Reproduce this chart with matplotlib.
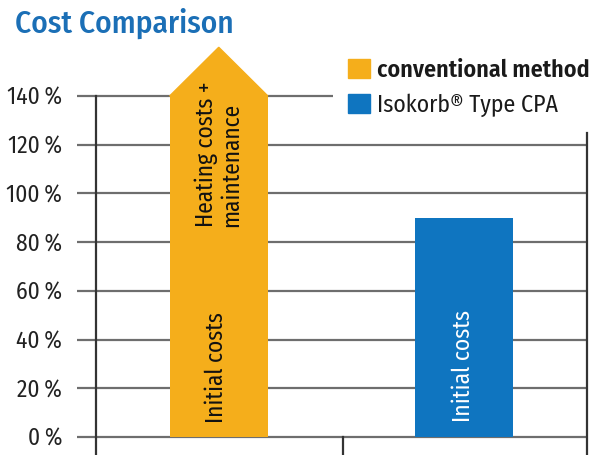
import matplotlib
matplotlib.use("Agg")
import matplotlib.pyplot as plt
from matplotlib.patches import Polygon, Rectangle

categories = ["conventional method", "Isokorb® Type CPA"]
values = [140, 90]
arrow_tip = 160
colors = ["#f5ae1b", "#0f75c0"]
yticks = [0, 20, 40, 60, 80, 100, 120, 140]
ytick_labels = ["0\u2009%", "20\u2009%", "40\u2009%", "60\u2009%", "80\u2009%", "100\u2009%", "120\u2009%", "140\u2009%"]
positions = [0.5, 1.5]

FONT = ["Fira Sans Condensed", "DejaVu Sans"]
plt.rcParams['font.family'] = FONT

W, H = 604, 456
fig = plt.figure(figsize=(W / 100, H / 100), dpi=100)
L, R, Y0, Y140 = 96, 587, 438, 97
ax = fig.add_axes([L / W, (H - Y0) / H, (R - L) / W, (Y0 - Y140) / H])
ax.set_xlim(0, 2)
ax.set_ylim(0, 140)
ax.axis("off")
pxy = 140 / (Y0 - Y140)
pxx = 1 / (R - L)

fits = []  # (text, target_px, use_height)

yt = ax.get_yaxis_transform()
for v, lab in zip(yticks, ytick_labels):
    xend = (333 - L) * pxx if v == 140 else 1.0
    ax.plot([(77 - L) * pxx, xend], [v, v], transform=yt, color="#6e6e6e",
            lw=1.6, zorder=1, clip_on=False, solid_capstyle="butt")
    t = ax.text((62 - L) * pxx, v - 8 * pxy, lab, transform=yt, ha="right", va="baseline",
                fontsize=13, color="#222222")
    if lab.startswith("140"):
        fits.append((t, 55, False))
    else:
        fits.append((t, None, False))

bottom = -(H - Y0) * pxy
ax.plot([0, 0], [bottom, 140], color="#333333", lw=1.6, clip_on=False, zorder=1)
ax.plot([1.006, 1.006], [bottom, 0], color="#333333", lw=1.6, clip_on=False, zorder=1)
ax.plot([2, 2], [bottom, (Y0 - 134) * pxy], color="#333333", lw=1.6, clip_on=False, zorder=1)

bars = ax.bar(positions, values, width=0.4, color=colors, zorder=3)
b = bars[0]
x0, w, top = b.get_x(), b.get_width(), b.get_height()
ax.add_patch(Polygon([(x0, top), (x0 + w / 2, arrow_tip), (x0 + w, top)],
                     closed=True, color=colors[0], zorder=3, clip_on=False))

t1 = ax.text(positions[0] - 0.01, 6, "Initial costs", rotation=90, ha="center", va="bottom",
             fontsize=15, color="#111111", zorder=4)
t2 = ax.text(positions[0], 86.5, "Heating costs +\nmaintenance", rotation=90, ha="center",
             va="bottom", ma="left", fontsize=15, color="#111111", zorder=4, linespacing=1.05)
t3 = ax.text(positions[1] - 0.005, 6.5, "Initial costs", rotation=90, ha="center", va="bottom",
             fontsize=15, color="white", zorder=4)
fits += [(t1, 111, True), (t3, 112, True)]

# legend
leg_targets = [212, 181]
leg_base = [77, 112]
for i, (cat, col) in enumerate(zip(categories, colors)):
    ytop = 60 + i * 35
    fig.patches.append(Rectangle((348 / W, 1 - (ytop + 19) / H), 22 / W, 19 / H,
                                 transform=fig.transFigure, color=col))
    t = fig.text(377 / W, 1 - leg_base[i] / H, cat, ha="left", va="baseline", fontsize=15,
                 fontweight="semibold" if i == 0 else "normal", color="#1a1a1a")
    fits.append((t, leg_targets[i], False))

tt = fig.text(15 / W, 1 - 33 / H, "Cost Comparison", ha="left", va="baseline",
              fontsize=20, fontweight="medium", color="#1b6fb6")
fits.append((tt, 218, False))

fig.canvas.draw()
r = fig.canvas.get_renderer()
tick_scale = None
for _ in range(3):
    for t, target, useh in fits:
        if target is None:
            continue
        bb = t.get_window_extent(r)
        size = bb.height if useh else bb.width
        t.set_fontsize(t.get_fontsize() * target / size)
# same size for all tick labels and t2 same as t1
fs_tick = fits[7][0].get_fontsize()
for t, target, useh in fits[:8]:
    t.set_fontsize(fs_tick)
t2.set_fontsize(t1.get_fontsize())

fig.savefig("out.png", dpi=100)
